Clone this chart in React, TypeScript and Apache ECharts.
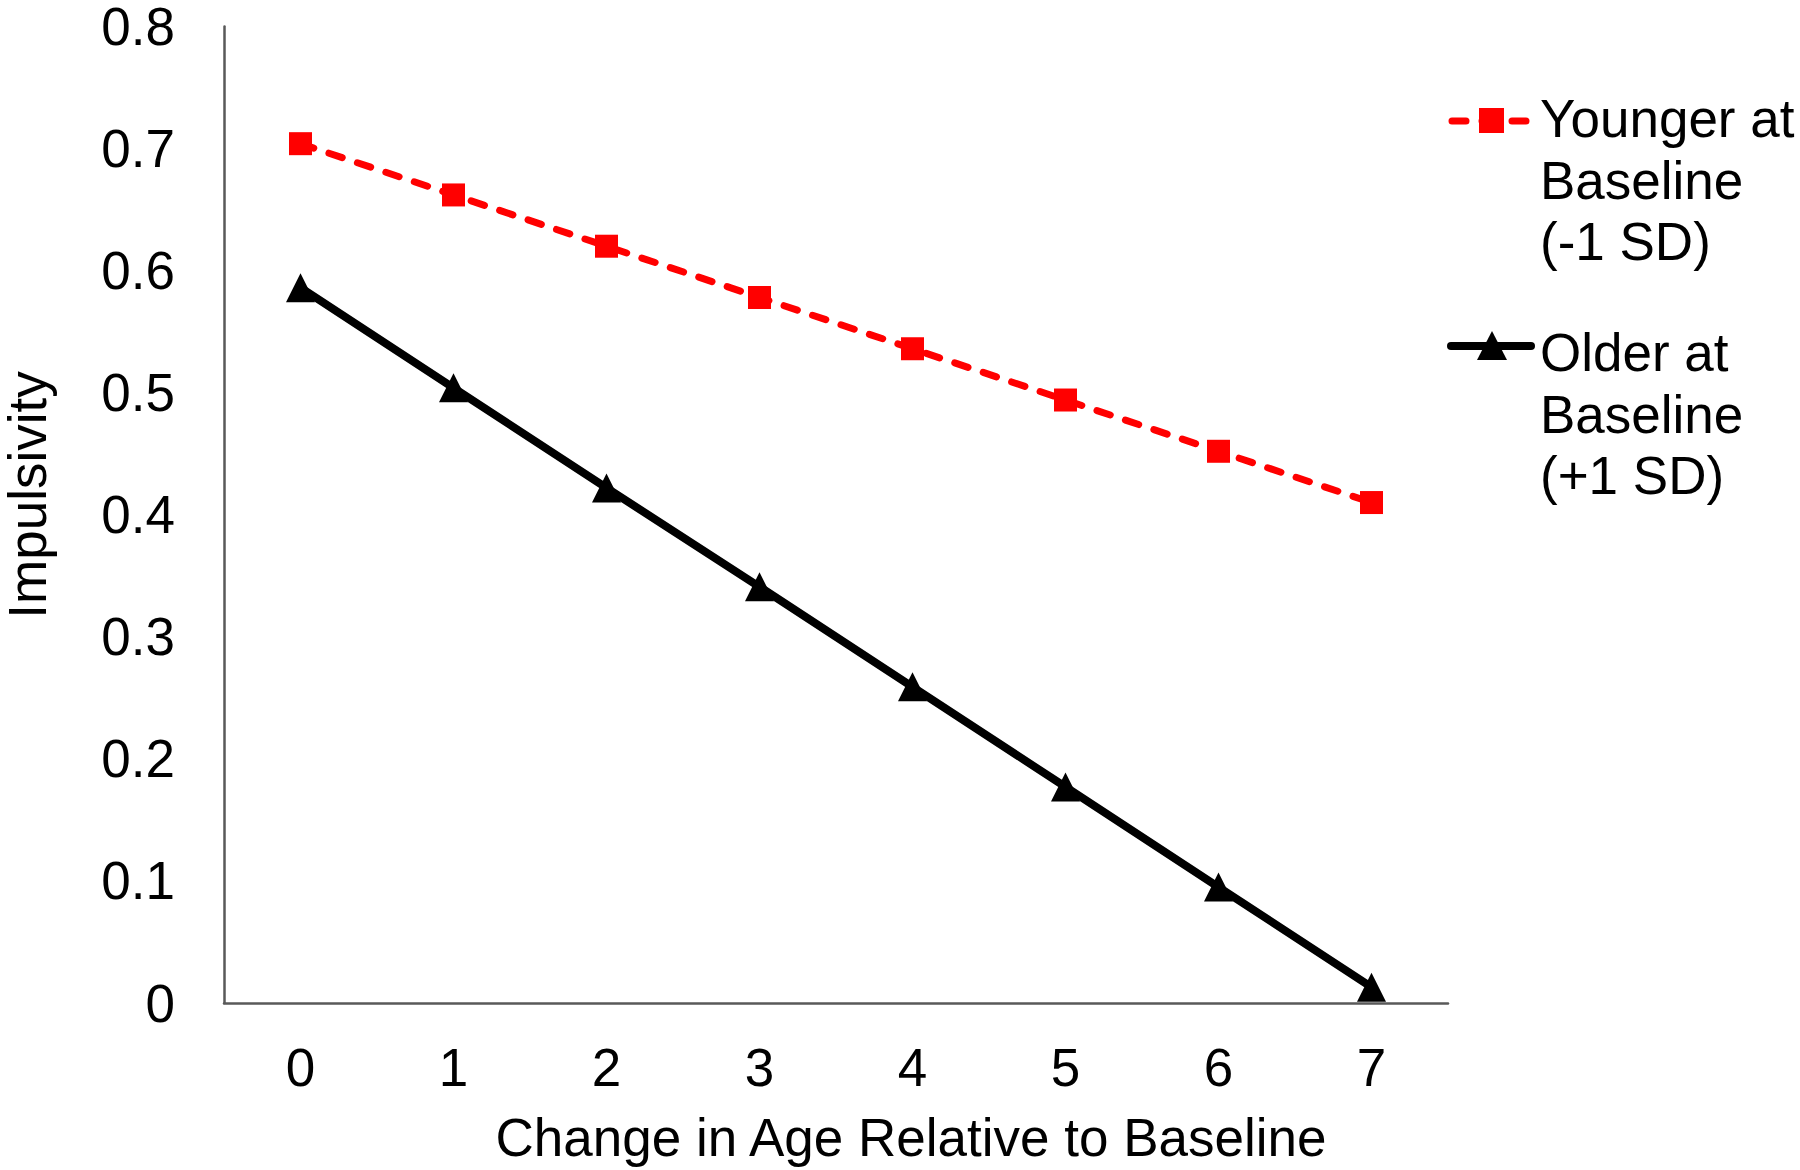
import React, { useEffect, useRef } from "react";
import * as echarts from "echarts";

const categories = ["0", "1", "2", "3", "4", "5", "6", "7"];
const youngerValues = [0.704, 0.662, 0.62, 0.578, 0.536, 0.494, 0.452, 0.41];
const olderValues = [0.586, 0.504, 0.422, 0.341, 0.259, 0.177, 0.095, 0.013];
const yTicks = { min: 0, max: 0.8, interval: 0.1 };
const youngerName = "Younger at\nBaseline\n(-1 SD)";
const olderName = "Older at\nBaseline\n(+1 SD)";
const xTitle = "Change in Age Relative to Baseline";
const yTitle = "Impulsivity";

const FONT = "'Liberation Sans', Arial, Helvetica, sans-serif";
const FS = 53;
const RED = "#ff0000";
const BLACK = "#000000";
const AXIS = "#595959";

export default function App() {
  const ref = useRef<HTMLDivElement>(null);

  useEffect(() => {
    if (!ref.current) return;
    const chart = echarts.init(ref.current, undefined, { renderer: "svg" });
    chart.setOption({
      animation: false,
      backgroundColor: "#ffffff",
      grid: { left: 224, right: 352, top: 26, bottom: 167, containLabel: false },
      xAxis: {
        type: "category",
        data: categories,
        boundaryGap: true,
        axisLine: { show: true, lineStyle: { color: AXIS, width: 2.5 } },
        axisTick: { show: false },
        axisLabel: { color: BLACK, fontSize: FS, fontFamily: FONT, margin: 38 },
        splitLine: { show: false },
      },
      yAxis: {
        type: "value",
        min: yTicks.min,
        max: yTicks.max,
        interval: yTicks.interval,
        axisLine: { show: true, lineStyle: { color: AXIS, width: 2.5 } },
        axisTick: { show: false },
        axisLabel: {
          color: BLACK,
          fontSize: FS,
          fontFamily: FONT,
          margin: 49,
          formatter: (v: number) => (v === 0 ? "0" : v.toFixed(1)),
        },
        splitLine: { show: false },
      },
      series: [
        {
          name: youngerName,
          type: "line",
          data: youngerValues,
          symbol: "rect",
          symbolSize: 23,
          lineStyle: { color: RED, width: 7, type: [14, 16], cap: "round" },
          itemStyle: { color: RED },
          z: 3,
        },
        {
          name: olderName,
          type: "line",
          data: olderValues,
          symbol: "triangle",
          symbolSize: [29, 29],
          lineStyle: { color: BLACK, width: 8 },
          itemStyle: { color: BLACK },
          z: 2,
        },
      ],
      graphic: [
        {
          type: "text",
          x: 911,
          y: 1137,
          style: {
            text: xTitle,
            fill: BLACK,
            font: `${FS}px ${FONT}`,
            textAlign: "center",
            textVerticalAlign: "middle",
          },
        },
        {
          type: "text",
          x: 27,
          y: 495,
          rotation: Math.PI / 2,
          style: {
            text: yTitle,
            fill: BLACK,
            font: `${FS}px ${FONT}`,
            textAlign: "center",
            textVerticalAlign: "middle",
          },
        },
        // Legend: younger
        {
          type: "line",
          shape: { x1: 1452, y1: 121, x2: 1530, y2: 121 },
          style: { stroke: RED, lineWidth: 7, lineDash: [14, 16], lineCap: "round" },
        },
        {
          type: "rect",
          shape: { x: 1479, y: 108, width: 25, height: 25 },
          style: { fill: RED },
        },
        {
          type: "text",
          x: 1540,
          y: 180,
          style: {
            text: youngerName,
            fill: BLACK,
            font: `${FS}px ${FONT}`,
            lineHeight: 61.5,
            textAlign: "left",
            textVerticalAlign: "middle",
          },
        },
        // Legend: older
        {
          type: "line",
          shape: { x1: 1451, y1: 346, x2: 1531, y2: 346 },
          style: { stroke: BLACK, lineWidth: 8, lineCap: "round" },
        },
        {
          type: "polygon",
          shape: { points: [[1492, 331], [1477, 360], [1507, 360]] },
          style: { fill: BLACK },
        },
        {
          type: "text",
          x: 1540,
          y: 414,
          style: {
            text: olderName,
            fill: BLACK,
            font: `${FS}px ${FONT}`,
            lineHeight: 61.5,
            textAlign: "left",
            textVerticalAlign: "middle",
          },
        },
      ],
    });
    return () => chart.dispose();
  }, []);

  return (
    <div
      ref={ref}
      style={{ position: "fixed", left: 0, top: 0, width: 1800, height: 1170, background: "#fff" }}
    />
  );
}
